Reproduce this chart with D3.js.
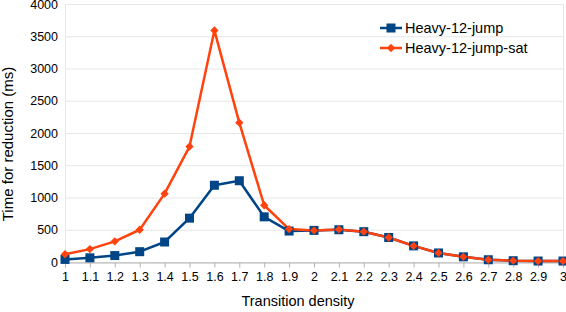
<!DOCTYPE html>
<html><head><meta charset="utf-8">
<script src="https://cdn.jsdelivr.net/npm/d3@7/dist/d3.min.js"></script>
<style>body{margin:0;background:#fff}svg{display:block}text{font-family:"Liberation Sans",Arial,sans-serif;fill:#000}</style>
</head><body><svg id="c" width="566" height="312"></svg>
<script>
const categories = ["1","1.1","1.2","1.3","1.4","1.5","1.6","1.7","1.8","1.9","2","2.1","2.2","2.3","2.4","2.5","2.6","2.7","2.8","2.9","3"];
const heavyJump    = [40,65,100,160,310,680,1190,1260,700,480,490,500,470,380,250,140,80,35,20,15,15];
const heavyJumpSat = [120,200,320,500,1060,1790,3590,2160,880,510,490,505,470,380,250,140,80,35,20,15,15];
const yTicks = [0,500,1000,1500,2000,2500,3000,3500,4000];
const seriesNames = ["Heavy-12-jump","Heavy-12-jump-sat"];
const colors = ["#004586","#ff420e"];

const svg = d3.select("#c");
const L = 65, R = 563, T = 4, B = 262;
const x = d3.scalePoint().domain(categories).range([L, R]);
const y = d3.scaleLinear().domain([0,4000]).range([B, T]);

// grid
svg.append("g").selectAll("line").data(yTicks).join("line")
  .attr("x1", L).attr("x2", R).attr("y1", d=>y(d)+0.5).attr("y2", d=>y(d)+0.5)
  .attr("stroke", "#e6e6e6");
svg.append("line").attr("x1",L+0.5).attr("x2",L+0.5).attr("y1",T).attr("y2",B).attr("stroke","#e6e6e6");
svg.append("line").attr("x1",R+0.5).attr("x2",R+0.5).attr("y1",T).attr("y2",B).attr("stroke","#e6e6e6");

// y axis
const ya = svg.append("g").attr("transform",`translate(${L},0)`)
  .call(d3.axisLeft(y).tickValues(yTicks).tickFormat(d3.format("d")).tickSize(0).tickPadding(7));
ya.select(".domain").remove();
ya.selectAll("text").style("font-size","12.5px").style("font-family","'Liberation Sans',Arial,sans-serif").attr("fill","#000");

// x axis
const xa = svg.append("g").attr("transform",`translate(0,${B+0.5})`)
  .call(d3.axisBottom(x).tickSize(5).tickPadding(5));
xa.select(".domain").attr("stroke","#b3b3b3");
xa.selectAll(".tick line").attr("stroke","#b3b3b3");
xa.selectAll("text").style("font-size","12.5px").style("font-family","'Liberation Sans',Arial,sans-serif").attr("fill","#000");

// titles
svg.append("text").attr("x",298).attr("y",306).attr("text-anchor","middle").style("font-size","14.5px").text("Transition density");
svg.append("text").attr("transform",`translate(13,144) rotate(-90)`).attr("text-anchor","middle").style("font-size","15px").text("Time for reduction (ms)");

const line = d3.line().x((d,i)=>x(categories[i])).y(d=>y(d));
const data = [heavyJump, heavyJumpSat];
data.forEach((s,k)=>{
  svg.append("path").datum(s).attr("d",line).attr("fill","none").attr("stroke",colors[k]).attr("stroke-width",2.5).attr("stroke-linejoin","round");
});
// markers
svg.append("g").selectAll("rect").data(heavyJump).join("rect")
  .attr("x",(d,i)=>x(categories[i])-4.5).attr("y",d=>y(d)-4.5).attr("width",9).attr("height",9).attr("fill",colors[0]);
const diamond = d3.symbol().type(d3.symbolDiamond2).size(44);
svg.append("g").selectAll("path").data(heavyJumpSat).join("path")
  .attr("transform",(d,i)=>`translate(${x(categories[i])},${y(d)})`).attr("d",diamond).attr("fill",colors[1]);

// legend
const lg = svg.append("g");
seriesNames.forEach((n,k)=>{
  const yy = 28 + k*20;
  lg.append("line").attr("x1",380).attr("x2",402).attr("y1",yy).attr("y2",yy).attr("stroke",colors[k]).attr("stroke-width",2.5);
  if(k===0) lg.append("rect").attr("x",386.5).attr("y",yy-4.5).attr("width",9).attr("height",9).attr("fill",colors[0]);
  else lg.append("path").attr("transform",`translate(391,${yy})`).attr("d",diamond).attr("fill",colors[1]);
  lg.append("text").attr("x",405).attr("y",yy+5).style("font-size","14.5px").text(n);
});
</script></body></html>
